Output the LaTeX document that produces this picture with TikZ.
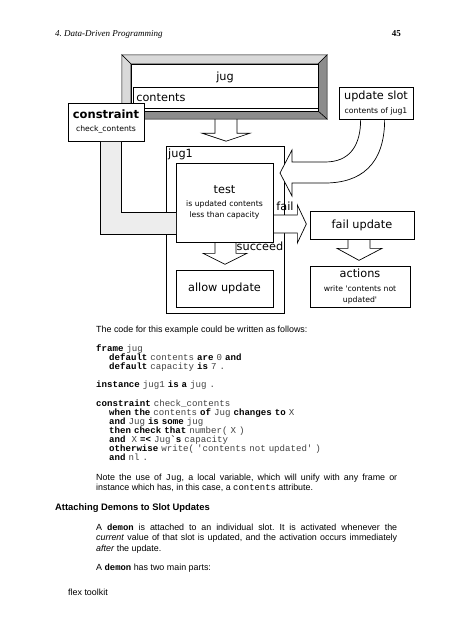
\documentclass[tikz,border=0pt]{standalone}
\usepackage{fontspec}
\setmainfont{Liberation Sans}
\setmonofont{Liberation Mono}
\newfontfamily\diagfont{DejaVu Sans}
\newfontfamily\headfont{Liberation Serif}
\usepackage{tikz}
\pgfdeclarelayer{back}
\pgfdeclarelayer{mid}
\pgfdeclarelayer{front}
\pgfsetlayers{back,mid,main,front}
\frenchspacing
\newcommand\lblsize{\diagfont\fontsize{11.3}{13}\selectfont}
\newcommand\notesize{\diagfont\fontsize{7.7}{11}\selectfont}
\newcommand\bodysize{\fontsize{8.9}{10.6}\selectfont}
\newcommand\codesize{\ttfamily\fontsize{9.1}{9.1}\selectfont}
\newcommand\kw[1]{\textbf{\color{black}#1}}
\tikzset{
  box/.style={draw,fill=white,line width=.7pt,inner sep=2pt},
  blockarrow/.style={draw,fill=white,line width=.7pt,line join=miter},
  bevellight/.style={fill=black!15,draw,line width=.5pt},
  beveldark/.style={fill=black!45,draw,line width=.5pt},
  bodytext/.style={anchor=base west,font=\bodysize,text width=301pt,align=justify,inner sep=0pt},
  plain/.style={anchor=base west,inner sep=0pt},
}
\begin{document}
\begin{tikzpicture}[x=1pt,y=-1pt]
  \useasboundingbox (0,0) rectangle (452,640);

  \node[plain,font=\headfont\itshape\fontsize{9}{11}\selectfont] (runhead) at (55,36.5) {4. Data-Driven Programming};
  \node[anchor=base east,inner sep=0pt,font=\headfont\bfseries\fontsize{9}{11}\selectfont] (pageno) at (401,36.5) {45};

  \node[minimum width=205pt,minimum height=64pt,inner sep=0pt] (jugframe) at (224.5,87) {};
  \path (jugframe.north west) +(9,9) coordinate (jfnw);
  \path (jugframe.north east) +(-9,9) coordinate (jfne);
  \path (jugframe.south east) +(-9,-8) coordinate (jfse);
  \path (jugframe.south west) +(9,-8) coordinate (jfsw);
  \filldraw[bevellight] (jugframe.north west) -- (jugframe.north east) -- (jfne) -- (jfnw) -- cycle;
  \filldraw[bevellight] (jugframe.north west) -- (jfnw) -- (jfsw) -- (jugframe.south west) -- cycle;
  \filldraw[beveldark] (jugframe.north east) -- (jugframe.south east) -- (jfse) -- (jfne) -- cycle;
  \filldraw[beveldark] (jugframe.south west) -- (jugframe.south east) -- (jfse) -- (jfsw) -- cycle;
  \node[box,minimum width=187pt,minimum height=47pt] (jug) at (224.5,87.5) {};
  \node[font=\lblsize,inner sep=0pt] (juglbl) at (225,77) {jug};
  \node[box,anchor=north west,minimum width=185pt,minimum height=21pt,text width=179pt,align=left,inner sep=3pt,font=\lblsize] (contents) at (133,87) {contents};

  \node[box,minimum width=76pt,minimum height=38pt,align=center,inner sep=1pt,font=\notesize] (constraint) at (106,122)
    {{\diagfont\bfseries\fontsize{11.5}{13}\selectfont constraint}\\[2pt]check\_contents};
  \node[box,minimum width=74pt,minimum height=32pt,align=center,inner sep=1pt,font=\notesize] (upslot) at (376,103)
    {{\lblsize update slot}\\[3pt]contents of jug1};

  \begin{pgfonlayer}{back}
    \node[box,minimum width=118pt,minimum height=167pt] (jugone) at (225,229.5) {};
  \end{pgfonlayer}
  \node[anchor=west,inner sep=0pt,font=\lblsize] (jugonelbl) at (168,154) {jug1};

  \node[box,minimum width=97pt,minimum height=79pt,align=center,font=\notesize] (test) at (224.5,202.5)
    {{\lblsize test}\\[2pt]is updated contents\\less than capacity};
  \node[box,minimum width=97pt,minimum height=37pt,font=\lblsize] (allowupd) at (224.5,288.5) {allow update};
  \node[box,minimum width=104pt,minimum height=28pt,font=\lblsize] (failupd) at (362,225) {fail update};
  \node[box,minimum width=100pt,minimum height=41pt,align=center,font=\notesize] (actions) at (360,286.5)
    {{\lblsize actions}\\[3pt]write \textquotesingle contents not\\updated\textquotesingle};
  \node[inner sep=0pt,font=\lblsize] (faillbl) at (285,206.5) {fail};
  \node[inner sep=0pt,font=\lblsize] (succlbl) at (260,246.7) {succeed};

  \begin{pgfonlayer}{mid}
    \draw[blockarrow] (jugframe.south) ++(-9.5,0) -- ++(0,14) -- ++(-13,0) -- ++(24,8) -- ++(24,-8) -- ++(-13,0) -- ++(0,-14);
    \draw[blockarrow] (test.south) ++(-9.5,0) -- ++(0,11) -- ++(-12,0) -- ++(22,11) -- ++(22,-11) -- ++(-11,0) -- ++(0,-11);
    \draw[blockarrow] (test.east) ++(0,12.5) -- ++(24,0) -- ++(0,-10) -- ++(9,19) -- ++(-9,19) -- ++(0,-10) -- ++(-24,0);
    \draw[blockarrow] (failupd.south) ++(-14,0) -- ++(0,9) -- ++(-11,0) -- ++(22,12) -- ++(23,-12) -- ++(-12,0) -- ++(0,-9);
    \path (upslot.south west) +(22,0) coordinate (usi);
    \path (upslot.south west) +(46,0) coordinate (uso);
    \draw[blockarrow] (usi) .. controls +(0,26) and +(25,0) .. (325,162) -- (292,162) -- (292,150) -- (280,173)
      -- (292,196) -- (292,183) -- (325,183) .. controls +(35,0) and +(0,46) .. (uso);
  \end{pgfonlayer}

  \begin{pgfonlayer}{front}
    \path (constraint.south west) +(33,.4) coordinate (cso);
    \path (constraint.south west) +(54,.4) coordinate (csi);
    \path (test.south west) +(.4,-8) coordinate (tbo);
    \path (test.south west) +(.4,-30) coordinate (tbi);
    \fill[black!7] (cso) |- (tbo) -- (tbi) -| (csi) -- cycle;
    \draw[line width=.7pt] (cso) |- (tbo);
    \draw[line width=.7pt] (csi) |- (tbi);
  \end{pgfonlayer}

  \node[plain,font=\bodysize] (intro) at (96,332) {The code for this example could be written as follows:};
  \node[plain,text width=300pt,align=left,font=\codesize,text=black!75] (code) at (96,351.5) {\kw{frame} jug\\
    \hspace*{13pt}\kw{default} contents \kw{are} 0 \kw{and}\\
    \hspace*{13pt}\kw{default} capacity \kw{is} 7 .\\[9.1pt]
    \kw{instance} jug1 \kw{is a} jug .\\[9.1pt]
    \kw{constraint} check\_contents\\
    \hspace*{13pt}\kw{when the} contents \kw{of} Jug \kw{changes to} X\\
    \hspace*{13pt}\kw{and} Jug \kw{is some} jug\\
    \hspace*{13pt}\kw{then check that} number( X )\\
    \hspace*{13pt}\kw{and}\ \ X \kw{=<} Jug\kw{`s} capacity\\
    \hspace*{13pt}\kw{otherwise} write( 'contents not updated' )\\
    \hspace*{13pt}\kw{and} nl .};
  \node[bodytext] (note) at (96,480) {Note the use of \texttt{Jug}, a local variable, which will unify with any frame or\linebreak
    instance which has, in this case, a \texttt{contents} attribute.};
  \node[plain,font=\bfseries\fontsize{9.4}{11}\selectfont] (attach) at (55,510) {Attaching Demons to Slot Updates};
  \node[bodytext] (demonpara) at (96,530) {A \texttt{\textbf{demon}} is attached to an individual slot. It is activated whenever the\linebreak
    \emph{current} value of that slot is updated, and the activation occurs immediately\linebreak
    \emph{after} the update.};
  \node[plain,font=\bodysize] (parts) at (96,570) {A \texttt{\textbf{demon}} has two main parts:};
  \node[plain,font=\bodysize] (footer) at (68,595) {flex toolkit};
\end{tikzpicture}
\end{document}
